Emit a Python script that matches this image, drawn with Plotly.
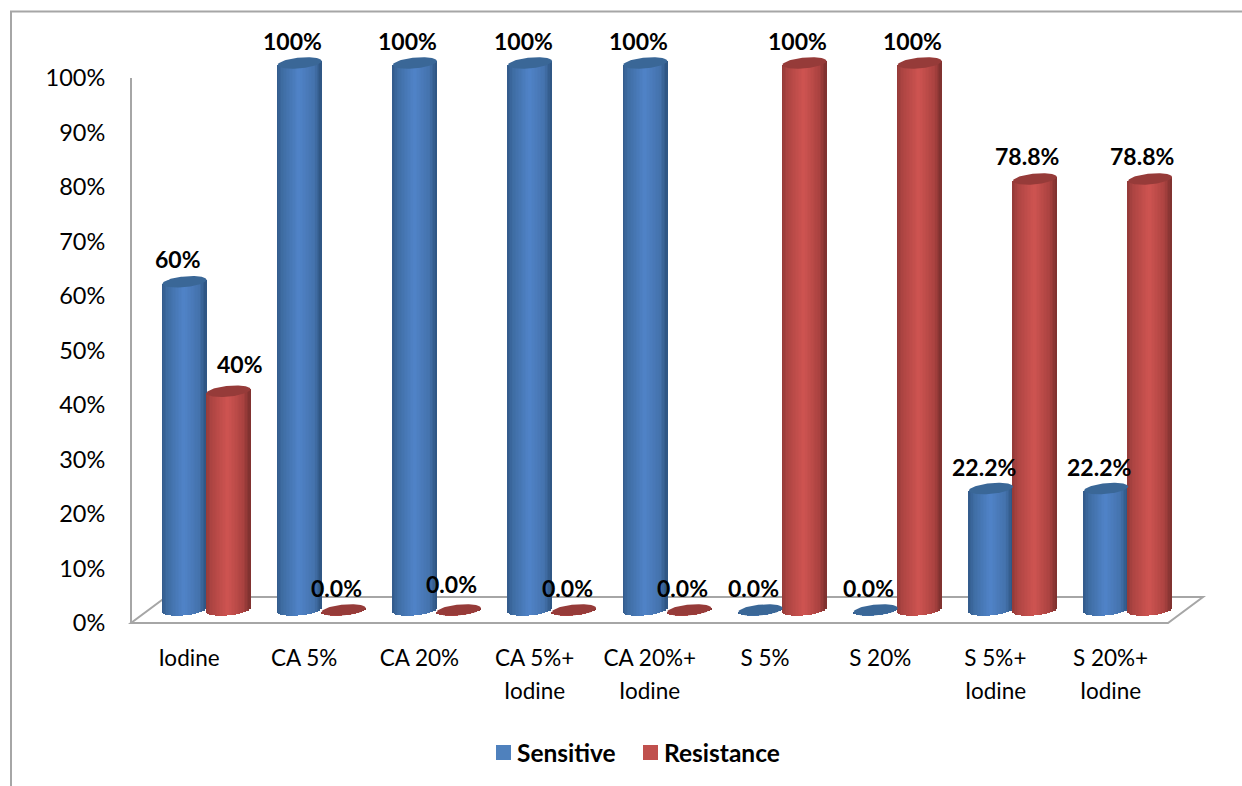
import math
import plotly.graph_objects as go

# Chart data
CATEGORIES = ["Iodine", "CA 5%", "CA 20%", "CA 5%+", "CA 20%+", "S 5%", "S 20%", "S 5%+", "S 20%+"]
CATEGORY_SECOND_LINE = ["", "", "", "Iodine", "Iodine", "", "", "Iodine", "Iodine"]
SENSITIVE = [60, 100, 100, 100, 100, 0, 0, 22.2, 22.2]
RESISTANCE = [40, 0, 0, 0, 0, 100, 100, 78.8, 78.8]
AXIS_TICKS = list(range(0, 101, 10))
SERIES_NAMES = ["Sensitive", "Resistance"]

W, H = 1242, 786
FONT = "Lato"
GREY = "#a6a6a6"
TEXT_SIZE = 22.5
AXIS_SIZE = 23.5
VALUE_SIZE = 23
KEY_SIZE = 24.5

# Horizontal scale: one category step is 115.2 px, first label centred at 189 px
STEP = 115.2
X0 = 189.0
X_RANGE = [-X0 / STEP, (W - X0) / STEP]

# Vertical scale of the cylinders: 0 sits at 610 px, 100 at 63 px
PX_PER_UNIT = 5.47
BASE_PX = 610.0
Y2_RANGE = [(BASE_PX - H) / PX_PER_UNIT, BASE_PX / PX_PER_UNIT]

# Cylinder geometry in pixels, converted to axis units when drawn
BOUNDARY_SHIFT = 17.5 / STEP
RADIUS = 22.0 / STEP
CAP_B = 5.4 / PX_PER_UNIT
CAP_TILT = 2.0 / PX_PER_UNIT
N_SLICES = 30

BLUE_STOPS = [(0.0, (50, 90, 138)), (0.12, (62, 108, 162)), (0.5, (80, 131, 200)),
              (0.85, (68, 114, 172)), (1.0, (46, 84, 128))]
RED_STOPS = [(0.0, (146, 58, 56)), (0.12, (172, 68, 66)), (0.5, (206, 84, 81)),
             (0.85, (170, 66, 64)), (1.0, (124, 48, 46))]


def shade(stops, f):
    for (a, ca), (b, cb) in zip(stops, stops[1:]):
        if f <= b:
            k = (f - a) / (b - a)
            r, g, bl = [round(p + (q - p) * k) for p, q in zip(ca, cb)]
            return f"rgb({r},{g},{bl})"
    return f"rgb{stops[-1][1]}"


def px(x):
    return x / W


def py(y):
    return 1 - y / H


def rim(t, side):
    """Height offset of the tilted cap ellipse at t in [-1, 1]; side=+1 upper, -1 lower."""
    return CAP_TILT * t + side * CAP_B * math.sqrt(max(0.0, 1 - t * t))


def add_cylinders(fig, values, centre_shift, stops):
    # Each slice of the shaded body is one bar per category
    slice_w = 2 * RADIUS / N_SLICES
    for s in range(N_SLICES):
        t = -1 + (2 * s + 1) / N_SLICES
        f = (s + 0.5) / N_SLICES
        xs = [i + centre_shift + t * RADIUS for i in range(len(values))]
        bases = [rim(t, -1)] * len(values)
        tops = [v + rim(t, 0) - b for v, b in zip(values, bases)]
        fig.add_trace(go.Bar(
            x=xs, y=tops, base=bases, width=slice_w * 1.35,
            marker=dict(color=shade(stops, f), line=dict(width=0)),
            xaxis="x", yaxis="y2", showlegend=False, hoverinfo="skip",
        ))


def add_caps(fig, values, centre_shift, colour):
    n = 60
    ts = [math.cos(math.pi * k / n) for k in range(n + 1)]
    for i, v in enumerate(values):
        cx = i + centre_shift
        xs = [cx + t * RADIUS for t in ts] + [cx + t * RADIUS for t in reversed(ts)]
        ys = [v + rim(t, 1) for t in ts] + [v + rim(t, -1) for t in reversed(ts)]
        fig.add_trace(go.Scatter(
            x=xs, y=ys, mode="lines", fill="toself", fillcolor=colour,
            line=dict(width=0, color=colour), xaxis="x", yaxis="y2",
            showlegend=False, hoverinfo="skip",
        ))


def value_text(v):
    if v == 0:
        return "0.0%"
    return f"{v:g}%"


fig = go.Figure()

# Invisible trace that keeps the percentage axis on the left active
fig.add_trace(go.Scatter(x=[None], y=[None], xaxis="x", yaxis="y", showlegend=False))

blue_shift = BOUNDARY_SHIFT - RADIUS
red_shift = BOUNDARY_SHIFT + RADIUS
add_cylinders(fig, SENSITIVE, blue_shift, BLUE_STOPS)
add_cylinders(fig, RESISTANCE, red_shift, RED_STOPS)
add_caps(fig, SENSITIVE, blue_shift, "#3a6797")
add_caps(fig, RESISTANCE, red_shift, "#963b39")

# Bold value labels above each cylinder
annotations = []
for series, shift in ((SENSITIVE, blue_shift), (RESISTANCE, red_shift)):
    for i, v in enumerate(series):
        dx, dy = -7, 22
        if series is RESISTANCE and i == 0:
            dx, dy = 11, 27
        elif series is SENSITIVE and i == 0:
            dy = 23
        elif series is RESISTANCE and i == 2:
            dy = 26
        elif v == 78.8:
            dx, dy = -8, 23
        annotations.append(dict(
            x=i + shift, y=v, xref="x", yref="y2", text=f"<b>{value_text(v)}</b>",
            showarrow=False, xshift=dx, yshift=dy, xanchor="center", yanchor="middle",
            font=dict(family=FONT, size=VALUE_SIZE, color="#000000"),
        ))

# Second line of the two-line category labels
for i, line in enumerate(CATEGORY_SECOND_LINE):
    if line:
        annotations.append(dict(
            x=i, xref="x", y=py(690), yref="paper", text=line, showarrow=False,
            xanchor="center", yanchor="middle",
            font=dict(family=FONT, size=TEXT_SIZE, color="#000000"),
        ))

# Outer frame, open on the right and at the bottom, and the perspective floor
shapes = [
    dict(type="path", xref="paper", yref="paper", layer="below",
         path=f"M {px(11)} {py(H)} L {px(11)} {py(11.5)} L {px(W)} {py(11.5)}",
         line=dict(color=GREY, width=2)),
    dict(type="path", xref="paper", yref="paper", layer="below",
         path=(f"M {px(131)} {py(623)} L {px(1168)} {py(623)} L {px(1203)} {py(597)} "
               f"L {px(166)} {py(597)} Z"),
         line=dict(color=GREY, width=2), fillcolor="rgba(0,0,0,0)"),
]

# Series key along the bottom
for name, colour, swatch_x, text_x in zip(SERIES_NAMES, ["#4f81bd", "#c0504d"], [496, 643], [515, 662]):
    shapes.append(dict(type="rect", xref="paper", yref="paper", layer="below",
                       x0=px(swatch_x), x1=px(swatch_x + 15), y0=py(760), y1=py(745),
                       fillcolor=colour, line=dict(width=0)))
    annotations.append(dict(
        x=px(text_x), y=py(752), xref="paper", yref="paper", text=f"<b>{name}</b>",
        showarrow=False, xanchor="left", yanchor="middle",
        font=dict(family=FONT, size=KEY_SIZE, color="#000000"),
    ))

fig.update_layout(
    width=W, height=H, autosize=False, showlegend=False,
    margin=dict(l=0, r=0, t=0, b=0, pad=0, autoexpand=False),
    paper_bgcolor="#ffffff", plot_bgcolor="rgba(0,0,0,0)",
    barmode="overlay", bargap=0,
    font=dict(family=FONT, size=TEXT_SIZE, color="#000000"),
    xaxis=dict(
        domain=[0, 1], range=X_RANGE, anchor="y", showgrid=False, zeroline=False, showline=False,
        tickmode="array", tickvals=list(range(len(CATEGORIES))), ticktext=CATEGORIES,
        ticks="outside", ticklen=15, tickcolor="rgba(0,0,0,0)",
        tickfont=dict(family=FONT, size=TEXT_SIZE, color="#000000"),
    ),
    yaxis=dict(
        domain=[py(623), py(78)], range=[0, 100], anchor="free", position=px(131),
        showgrid=False, zeroline=False, showline=True, linecolor=GREY, linewidth=2,
        tickmode="array", tickvals=AXIS_TICKS, ticktext=[f"{t}%" for t in AXIS_TICKS],
        ticks="outside", ticklen=20, tickcolor="rgba(0,0,0,0)",
        tickfont=dict(family=FONT, size=AXIS_SIZE, color="#000000"),
    ),
    yaxis2=dict(domain=[0, 1], range=Y2_RANGE, anchor="x", visible=False),
    annotations=annotations,
    shapes=shapes,
)

fig.write_html("out.html", config=dict(displayModeBar=False))
